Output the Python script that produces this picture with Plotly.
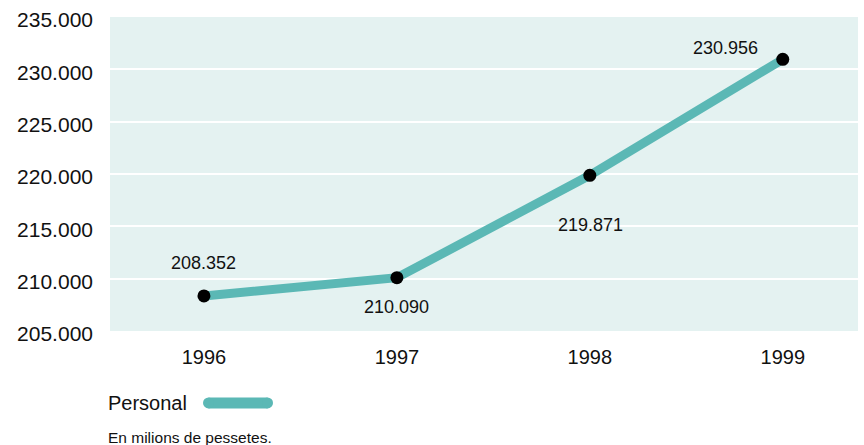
import plotly.graph_objects as go

years = [1996, 1997, 1998, 1999]
personal = [208352, 210090, 219871, 230956]
value_labels = ["208.352", "210.090", "219.871", "230.956"]
y_ticks = [205000, 210000, 215000, 220000, 225000, 230000, 235000]
y_tick_labels = ["205.000", "210.000", "215.000", "220.000", "225.000", "230.000", "235.000"]

# label offsets (px) relative to each point
label_dx = [0, 0, 1, -57]
label_dy = [33, -29, -50, 11]

LINE = "#5bb8b5"
BG = "#e4f2f1"
FONT = "Liberation Sans, Arial, sans-serif"

fig = go.Figure()
fig.add_trace(go.Scatter(
    x=years, y=personal, mode="lines",
    line=dict(color=LINE, width=9),
    showlegend=False, hoverinfo="skip",
))
fig.add_trace(go.Scatter(
    x=years, y=personal, mode="markers",
    marker=dict(color="black", size=13),
    showlegend=False,
))

for x, y, t, dx, dy in zip(years, personal, value_labels, label_dx, label_dy):
    fig.add_annotation(x=x, y=y, text=t, showarrow=False,
                       xshift=dx, yshift=dy,
                       font=dict(family=FONT, size=18, color="#111"))

# legend: label followed by a rounded swatch
LEG_Y = -0.229
fig.add_annotation(xref="paper", yref="paper", x=-0.005, y=LEG_Y,
                   xanchor="left", yanchor="middle", text="Personal", showarrow=False,
                   font=dict(family=FONT, size=20, color="#111"))
sx0, sx1 = 0.1317, 0.2106
fig.add_shape(type="line", xref="paper", yref="paper",
              x0=sx0, x1=sx1, y0=LEG_Y, y1=LEG_Y,
              line=dict(color=LINE, width=11))
for sx in (sx0, sx1):
    fig.add_shape(type="circle", xref="paper", yref="paper",
                  xsizemode="pixel", ysizemode="pixel",
                  xanchor=sx, yanchor=LEG_Y,
                  x0=-5.5, x1=5.5, y0=-5.5, y1=5.5,
                  fillcolor=LINE, line=dict(width=0))
fig.add_annotation(xref="paper", yref="paper", x=-0.005, y=-0.3376,
                   xanchor="left", yanchor="middle", text="En milions de pessetes.",
                   showarrow=False, font=dict(family=FONT, size=15.5, color="#111"))

fig.update_layout(
    width=864, height=445,
    margin=dict(l=110, r=6, t=17, b=114),
    paper_bgcolor="white", plot_bgcolor=BG,
    font=dict(family=FONT, color="#111"),
    xaxis=dict(range=[1995.513, 1999.39], tickvals=years, ticktext=[str(y) for y in years],
               showgrid=False, zeroline=False, showline=False, automargin=False,
               tickfont=dict(size=20), ticks="", ticklen=0, ticklabelstandoff=12),
    yaxis=dict(range=[205000, 235000], tickvals=y_ticks, ticktext=y_tick_labels,
               showgrid=True, gridcolor="white", gridwidth=2, zeroline=False,
               showline=False, automargin=False, tickfont=dict(size=21), ticks="",
               ticklabelstandoff=16, ticklabelshift=3),
)

fig.write_html("out.html")
